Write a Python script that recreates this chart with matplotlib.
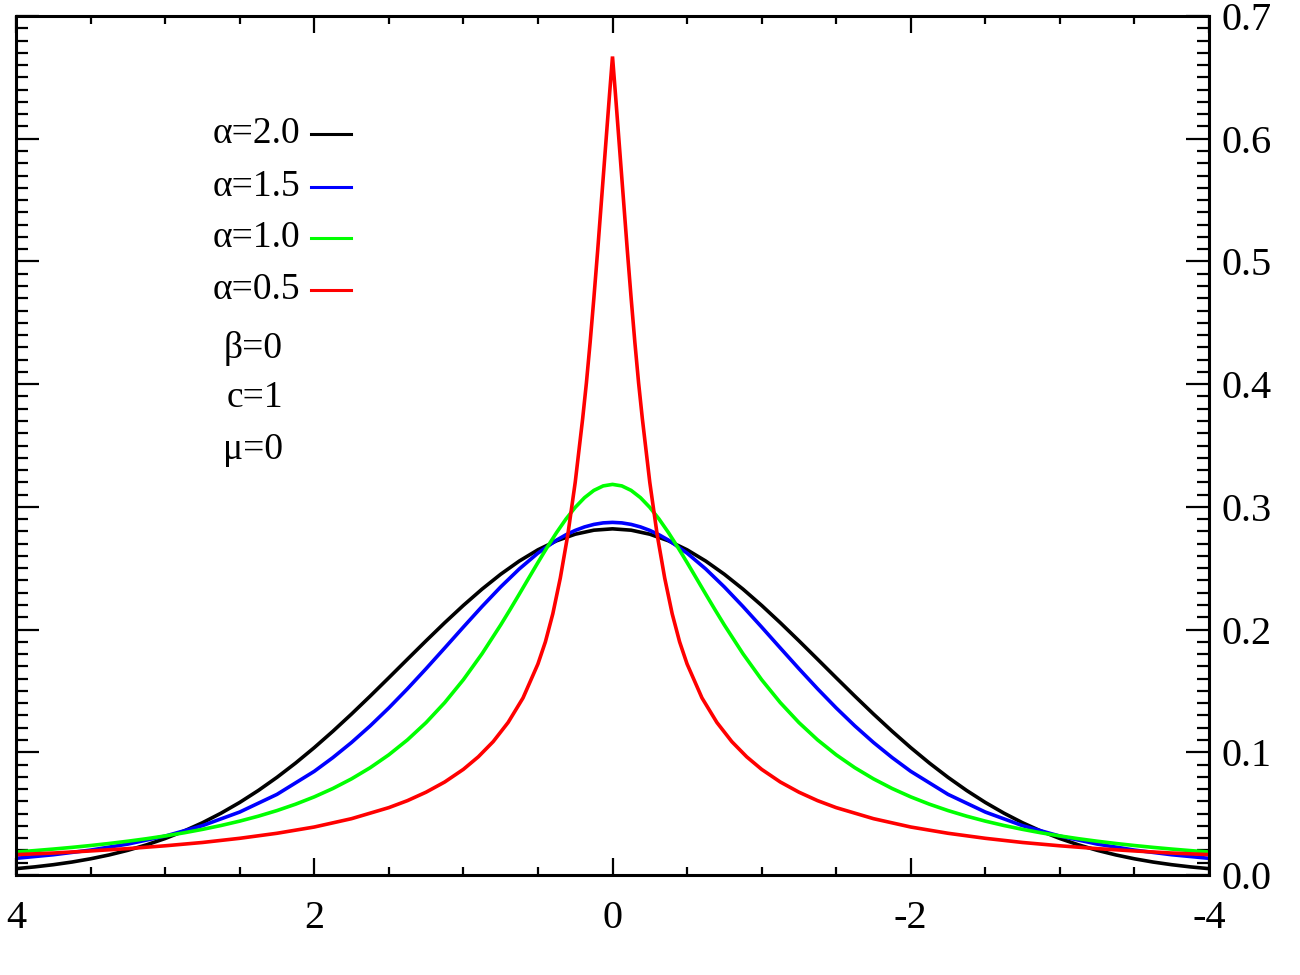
import numpy as np
import matplotlib
matplotlib.use("Agg")
import matplotlib.pyplot as plt
from matplotlib.ticker import MultipleLocator

plt.rcParams['font.family'] = ['Liberation Serif', 'DejaVu Serif']

# values (x runs from 4 on the left to -4 on the right)
x_black = np.linspace(-4, 4, 65)   # 0.125 steps
pdf_a20 = [0.00517, 0.00661, 0.00839, 0.01056, 0.01320, 0.01636, 0.02013, 0.02456, 0.02973,
           0.03572, 0.04256, 0.05038, 0.05912, 0.06886, 0.07958, 0.09123, 0.10378, 0.11714,
           0.13118, 0.14578, 0.16073, 0.17584, 0.19087, 0.20558, 0.21970, 0.23295, 0.24507,
           0.25585, 0.26500, 0.27234, 0.27772, 0.28099, 0.28209, 0.28099, 0.27772, 0.27234,
           0.26500, 0.25585, 0.24507, 0.23295, 0.21970, 0.20558, 0.19087, 0.17584, 0.16073,
           0.14578, 0.13118, 0.11714, 0.10378, 0.09123, 0.07958, 0.06886, 0.05912, 0.05038,
           0.04256, 0.03572, 0.02973, 0.02456, 0.02013, 0.01636, 0.01320, 0.01056, 0.00839,
           0.00661, 0.00517]

x_green = [-4.0, -3.875, -3.75, -3.625, -3.5, -3.375, -3.25, -3.125, -3.0, -2.875, -2.75,
           -2.625, -2.5, -2.375, -2.25, -2.125, -2.0, -1.875, -1.75, -1.625, -1.5, -1.375,
           -1.25, -1.125, -1.0, -0.875, -0.75,
           -0.6875, -0.625, -0.5625, -0.5, -0.4375, -0.375, -0.3125, -0.25, -0.1875, -0.125,
           -0.0625, 0.0, 0.0625, 0.125, 0.1875, 0.25, 0.3125, 0.375, 0.4375, 0.5, 0.5625,
           0.625, 0.6875,
           0.75, 0.875, 1.0, 1.125, 1.25, 1.375, 1.5, 1.625, 1.75, 1.875, 2.0, 2.125, 2.25,
           2.375, 2.5, 2.625, 2.75, 2.875, 3.0, 3.125, 3.25, 3.375, 3.5, 3.625, 3.75, 3.875,
           4.0]
pdf_a10 = [0.01872, 0.01988, 0.02113, 0.02251, 0.02402, 0.02569, 0.02753, 0.02957, 0.03183,
           0.03435, 0.03718, 0.04034, 0.04390, 0.04793, 0.05250, 0.05771, 0.06366, 0.07049,
           0.07835, 0.08743, 0.09794, 0.11012, 0.12422, 0.14050, 0.15915, 0.18028, 0.20372,
           0.21615, 0.22890, 0.24180, 0.25465, 0.26717, 0.27906, 0.28999, 0.29959, 0.30750,
           0.31341, 0.31707, 0.31831, 0.31707, 0.31341, 0.30750, 0.29959, 0.28999, 0.27906,
           0.26717, 0.25465, 0.24180, 0.22890, 0.21615,
           0.20372, 0.18028, 0.15915, 0.14050, 0.12422, 0.11012, 0.09794, 0.08743, 0.07835,
           0.07049, 0.06366, 0.05771, 0.05250, 0.04793, 0.04390, 0.04034, 0.03718, 0.03435,
           0.03183, 0.02957, 0.02753, 0.02569, 0.02402, 0.02251, 0.02113, 0.01988, 0.01872]

x_blue = [-4.0, -3.75, -3.5, -3.25, -3.0, -2.75, -2.5, -2.25, -2.0, -1.875, -1.75, -1.625,
          -1.5, -1.375, -1.25, -1.125, -1.0, -0.875, -0.75, -0.625, -0.5, -0.375, -0.3125,
          -0.25, -0.1875, -0.125, -0.0625, 0.0, 0.0625, 0.125, 0.1875, 0.25, 0.3125, 0.375,
          0.5, 0.625, 0.75, 0.875, 1.0, 1.125, 1.25, 1.375, 1.5, 1.625, 1.75, 1.875, 2.0,
          2.25, 2.5, 2.75, 3.0, 3.25, 3.5, 3.75, 4.0]
pdf_a15 = [0.0136, 0.0165, 0.0203, 0.0252, 0.0317, 0.0402, 0.0513, 0.0657, 0.08448, 0.09569,
           0.10800, 0.12151, 0.13614, 0.15175, 0.16814, 0.18502, 0.20204, 0.21877, 0.23473,
           0.24941, 0.26230, 0.27290, 0.27722, 0.28082, 0.28365, 0.28570, 0.28694, 0.28735,
           0.28694, 0.28570, 0.28365, 0.28082, 0.27722, 0.27290, 0.26230, 0.24941, 0.23473,
           0.21877, 0.20204, 0.18502, 0.16814, 0.15175, 0.13614, 0.12151, 0.10800, 0.09569,
           0.08448, 0.0657, 0.0513, 0.0402, 0.0317, 0.0252, 0.0203, 0.0165, 0.0136]

x_red = [-4.0, -3.75, -3.5, -3.25, -3.0, -2.75, -2.5, -2.25, -2.0, -1.75, -1.5, -1.375, -1.25,
         -1.125, -1.0, -0.9, -0.8, -0.7, -0.6, -0.5, -0.45, -0.4, -0.35, -0.3, -0.25, -0.2,
         -0.175, -0.15, -0.125, -0.1, -0.08, -0.06, -0.04, -0.02, 0.0, 0.02, 0.04, 0.06, 0.08,
         0.1, 0.125, 0.15, 0.175, 0.2, 0.25, 0.3, 0.35, 0.4, 0.45, 0.5, 0.6, 0.7, 0.8, 0.9,
         1.0, 1.125, 1.25, 1.375, 1.5, 1.75, 2.0, 2.25, 2.5, 2.75, 3.0, 3.25, 3.5, 3.75, 4.0]
pdf_a05 = [0.0166, 0.0179, 0.0196, 0.0215, 0.0238, 0.0265, 0.0299, 0.0340, 0.0391, 0.0459,
           0.0549, 0.0606, 0.0675, 0.0758, 0.0861, 0.0963, 0.1087, 0.1243, 0.1443, 0.172,
           0.190, 0.213, 0.242, 0.277, 0.320, 0.372, 0.401, 0.434, 0.470, 0.508, 0.540, 0.572,
           0.604, 0.636, 0.667,
           0.636, 0.604, 0.572, 0.540, 0.508, 0.470, 0.434, 0.401, 0.372, 0.320, 0.277, 0.242,
           0.213, 0.190, 0.172, 0.1443, 0.1243, 0.1087, 0.0963, 0.0861, 0.0758, 0.0675,
           0.0606, 0.0549, 0.0459, 0.0391, 0.0340, 0.0299, 0.0265, 0.0238, 0.0215, 0.0196,
           0.0179, 0.0166]

legend_labels = ['α=2.0', 'α=1.5', 'α=1.0', 'α=0.5']
legend_colors = ['black', '#0000ff', '#00ff00', '#ff0000']
param_labels = ['β=0', 'c=1', 'μ=0']

x_ticks = [4, 2, 0, -2, -4]
x_ticklabels = ['4', '2', '0', '-2', '-4']
y_ticks = [0.0, 0.1, 0.2, 0.3, 0.4, 0.5, 0.6, 0.7]
y_ticklabels = ['0.0', '0.1', '0.2', '0.3', '0.4', '0.5', '0.6', '0.7']

W, H = 1300, 975
fig = plt.figure(figsize=(13, 9.75), dpi=100)
ax = fig.add_axes([16 / W, 1 - 875 / H, 1193 / W, 859 / H])

lw = 2.6
ax.plot(x_black, pdf_a20, color=legend_colors[0], lw=lw, solid_joinstyle='round')
ax.plot(x_blue, pdf_a15, color=legend_colors[1], lw=lw, solid_joinstyle='round')
ax.plot(x_green, pdf_a10, color=legend_colors[2], lw=lw, solid_joinstyle='round')
ax.plot(x_red, pdf_a05, color=legend_colors[3], lw=lw, solid_joinstyle='miter')

ax.set_xlim(4, -4)
ax.set_ylim(0, 0.7)

for s in ax.spines.values():
    s.set_linewidth(2.2)

ax.set_xticks(x_ticks)
ax.set_xticklabels(x_ticklabels)
ax.set_yticks(y_ticks)
ax.set_yticklabels(y_ticklabels)
ax.xaxis.set_minor_locator(MultipleLocator(0.5))
ax.yaxis.set_minor_locator(MultipleLocator(0.01))

ax.tick_params(which='both', direction='in', top=True, bottom=True, left=True, right=True,
               labelleft=False, labelright=True, width=1.6, labelsize=29)
ax.xaxis.set_tick_params(which='major', length=12, pad=18)
ax.xaxis.set_tick_params(which='minor', length=6)
ax.yaxis.set_tick_params(which='major', length=16.5, pad=9)
ax.yaxis.set_tick_params(which='minor', length=8.5)

# legend drawn by hand: text left of the line sample
def ax_x(px):
    return (px - 16) / 1193

def ax_y(py):
    return (875 - py) / 859

rows = [134, 187, 238, 290]
for lab, col, py in zip(legend_labels, legend_colors, rows):
    ax.plot([ax_x(311), ax_x(351)], [ax_y(py), ax_y(py)], color=col, lw=2.2,
            transform=ax.transAxes)
    ax.text(ax_x(300), ax_y(py), lab, transform=ax.transAxes, ha='right', va='center',
            fontsize=27)

for lab, py in zip(param_labels, [348, 398, 450]):
    ax.text(ax_x(283), ax_y(py), lab, transform=ax.transAxes, ha='right', va='center',
            fontsize=27)

fig.savefig('out.png', dpi=100)
